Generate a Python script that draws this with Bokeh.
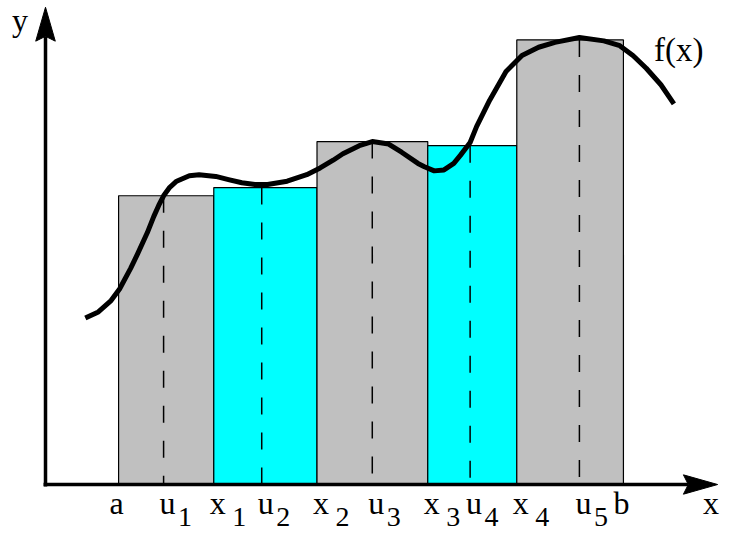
from bokeh.plotting import figure
from bokeh.models import Range1d, ColumnDataSource
from bokeh.core.properties import value
from bokeh.embed import file_html
from bokeh.resources import INLINE

# ---- data (chart units) ----
bar_edges = [7.47, 17.2, 27.75, 39.07, 48.17, 59.07]
bar_tops = [29.83, 30.67, 35.43, 35.0, 45.93]
bar_colors = ["#C0C0C0", "#00FFFF", "#C0C0C0", "#00FFFF", "#C0C0C0"]
sample_u = [12.07, 22.1, 33.4, 43.4, 54.57]

curve_x = [4.07, 5.4, 6.7, 7.57, 8.7, 9.4, 10.4, 11.07, 11.57, 12.07, 12.7, 13.4, 14.7,
           15.7, 17.4, 18.7, 20.07, 21.4, 22.7, 24.7, 26.7, 28.07, 29.4, 30.4, 32.07,
           33.4, 35.07, 36.4, 38.07, 38.73, 39.73, 40.73, 41.73, 42.4, 43.4, 44.07,
           45.4, 47.07, 48.7, 50.4, 52.07, 54.57, 57.07, 58.7, 60.07, 61.4, 62.9, 64.23]
curve_y = [17.2, 17.83, 19.0, 20.2, 22.33, 23.8, 26.0, 27.7, 28.83, 29.83, 30.7, 31.33, 31.9,
           32.0, 31.83, 31.5, 31.17, 31.0, 31.0, 31.33, 32.0, 32.7, 33.5, 34.17, 35.0,
           35.43, 35.17, 34.33, 33.17, 32.83, 32.4, 32.5, 33.17, 34.0, 35.33, 37.0,
           39.7, 42.67, 44.33, 45.17, 45.67, 46.17, 45.83, 45.33, 44.3, 43.0, 41.3, 39.33]

x_axis_end = 68.7
y_axis_end = 49.3

FONT = value("Liberation Serif")
FS = "32px"
FS_SUB = "28px"
BASE_FIX = -9   # renderer places the alphabetic baseline a little low

p = figure(width=724, height=533, x_range=Range1d(-4.6, 69.4), y_range=Range1d(-5.06, 50.0),
           output_backend="svg", toolbar_location=None, min_border=0,
           x_axis_type=None, y_axis_type=None)
p.grid.visible = False
p.outline_line_color = None
p.background_fill_color = "white"

# bars
p.quad(left=bar_edges[:-1], right=bar_edges[1:], bottom=0, top=bar_tops,
       fill_color=bar_colors, line_color="black", line_width=1.2)

# dashed sample lines
p.segment(x0=sample_u, y0=bar_tops, x1=sample_u, y1=[0] * len(sample_u),
          line_color="black", line_width=1.5, line_dash="17 18")

# curve f(x)
p.line(curve_x, curve_y, line_color="black", line_width=5, line_join="round", line_cap="butt")

# axes with arrows
ARROW_LEN = 3.5
ARROW_HW = 1.0
NOTCH = 0.5
p.segment(x0=[-0.2, 0], y0=[0, -0.2], x1=[x_axis_end - ARROW_LEN + NOTCH, 0],
          y1=[0, y_axis_end - ARROW_LEN + NOTCH], line_color="black", line_width=3.5)
p.patches(
    xs=[[x_axis_end, x_axis_end - ARROW_LEN, x_axis_end - ARROW_LEN + NOTCH, x_axis_end - ARROW_LEN],
        [0, -ARROW_HW, 0, ARROW_HW]],
    ys=[[0, ARROW_HW, 0, -ARROW_HW],
        [y_axis_end, y_axis_end - ARROW_LEN, y_axis_end - ARROW_LEN + NOTCH, y_axis_end - ARROW_LEN]],
    fill_color="black", line_color="black", line_width=1)

# tick labels
tick_pos = [bar_edges[0]]
main_lbl = ["a"]
sub_lbl = [""]
for i in range(5):
    tick_pos.append(sample_u[i]); main_lbl.append("u"); sub_lbl.append(str(i + 1))
    if i < 4:
        tick_pos.append(bar_edges[i + 1]); main_lbl.append("x"); sub_lbl.append(str(i + 1))
tick_pos.append(bar_edges[-1]); main_lbl.append("b"); sub_lbl.append("")

ends = [i for i, m in enumerate(main_lbl) if m in ("a", "b")]
mids = [i for i, m in enumerate(main_lbl) if m not in ("a", "b")]
sub_gap = {"u": 14.5, "x": 18.5}
MAIN_DY = 27 + BASE_FIX
SUB_DY = 41 + BASE_FIX

p.text(x=[tick_pos[i] for i in ends], y=[0] * len(ends), text=[main_lbl[i] for i in ends],
       text_font=FONT, text_font_size=FS, text_align="center", text_baseline="alphabetic",
       x_offset=-2, y_offset=MAIN_DY, text_color="black")
src_mid = ColumnDataSource(dict(
    x=[tick_pos[i] for i in mids], y=[0] * len(mids), t=[main_lbl[i] for i in mids],
    s=[sub_lbl[i] for i in mids], so=[sub_gap[main_lbl[i]] for i in mids]))
p.text(x="x", y="y", text="t", source=src_mid, text_font=FONT, text_font_size=FS,
       text_align="left", text_baseline="alphabetic", x_offset=-4, y_offset=MAIN_DY,
       text_color="black")
p.text(x="x", y="y", text="s", source=src_mid, text_font=FONT, text_font_size=FS_SUB,
       text_align="left", text_baseline="alphabetic", x_offset="so", y_offset=SUB_DY,
       text_color="black")

# axis names and curve label
p.text(x=[x_axis_end - 1.5], y=[0], text=["x"], text_font=FONT, text_font_size=FS,
       text_align="left", text_baseline="alphabetic", y_offset=MAIN_DY, text_color="black")
p.text(x=[-2.6], y=[47.1], text=["y"], text_font=FONT, text_font_size=FS,
       text_align="center", text_baseline="alphabetic", y_offset=BASE_FIX, text_color="black")
p.text(x=[62.2], y=[44.0], text=["f(x)"], text_font=FONT, text_font_size="33px",
       text_align="left", text_baseline="alphabetic", y_offset=BASE_FIX, text_color="black")

open("out.html", "w").write(file_html(p, INLINE))
